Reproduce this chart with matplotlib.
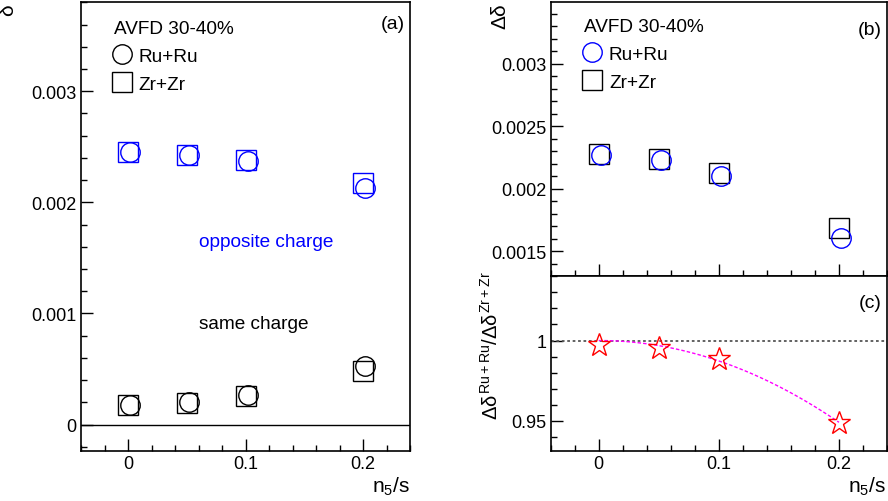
import matplotlib
matplotlib.use("Agg")
import matplotlib.pyplot as plt
from matplotlib.lines import Line2D
from matplotlib.ticker import MultipleLocator, FuncFormatter
import numpy as np

plt.rcParams['font.family'] = ['Liberation Sans', 'DejaVu Sans']
plt.rcParams['mathtext.fontset'] = 'custom'
plt.rcParams['mathtext.rm'] = 'Liberation Sans'
plt.rcParams['mathtext.it'] = 'Liberation Sans'
plt.rcParams['mathtext.bf'] = 'Liberation Sans'

# n5/s values (circles drawn slightly shifted as in the original)
n5s = [0.0, 0.05, 0.1, 0.2]
shift = 0.002

# panel (a): delta
opp_ru = [0.00245, 0.00243, 0.00237, 0.00213]
opp_zr = [0.00245, 0.00243, 0.00238, 0.00217]
same_ru = [0.00018, 0.00020, 0.00027, 0.00053]
same_zr = [0.000177, 0.000195, 0.000258, 0.00048]

# panel (b): Delta delta
dd_ru = [0.002272, 0.002226, 0.002098, 0.001606]
dd_zr = [0.002277, 0.002234, 0.002124, 0.001686]

# panel (c): ratio
ratio = [0.9969, 0.9955, 0.9887, 0.9488]

BLUE = '#0000ff'
W, H = 888, 502
fig = plt.figure(figsize=(W / 100, H / 100), dpi=100)

def px_axes(x0, y0, x1, y1):
    return fig.add_axes([x0 / W, 1 - y1 / H, (x1 - x0) / W, (y1 - y0) / H])

axa = px_axes(81, 3.3, 410, 452.3)
axb = px_axes(550.7, 3.3, 887, 277.3)
axc = px_axes(550.7, 277.3, 887, 452.3)

def fmt(v, pos):
    if abs(v) < 1e-12:
        return '0'
    return '%g' % v

for ax in (axa, axb, axc):
    ax.set_xlim(-0.04, 0.24)
    ax.xaxis.set_major_locator(MultipleLocator(0.1))
    ax.xaxis.set_minor_locator(MultipleLocator(0.02))
    ax.xaxis.set_major_formatter(FuncFormatter(fmt))
    ax.yaxis.set_major_formatter(FuncFormatter(fmt))
    ax.tick_params(which='both', direction='in', top=False, right=False,
                   labelsize=13, width=1)
    ax.tick_params(which='major', length=8.5, pad=3)
    ax.tick_params(which='minor', length=4.5)
    for s in ax.spines.values():
        s.set_linewidth(1.2)

ms = 14
FS = 13.7

def add_legend(ax, ccol):
    handles = [Line2D([], [], ls='none', marker='o', ms=ms, mfc='none', mec=ccol, mew=1),
               Line2D([], [], ls='none', marker='s', ms=ms, mfc='none', mec='black', mew=1)]
    leg = ax.legend(handles, ['Ru+Ru', 'Zr+Zr'], title='AVFD 30-40%', loc='upper left',
                    bbox_to_anchor=(0.06, 0.99), frameon=False, fontsize=FS,
                    title_fontsize=FS, handlelength=0.8, handletextpad=0.5,
                    labelspacing=0.55, borderaxespad=0.3)
    leg._legend_box.align = 'left'

# ---- panel (a)
axa.set_ylim(-0.00024, 0.0038)
axa.yaxis.set_major_locator(MultipleLocator(0.001))
axa.yaxis.set_minor_locator(MultipleLocator(0.0002))
axa.axhline(0, color='black', lw=1)
axa.plot(n5s, opp_zr, 's', ms=ms, mfc='none', mec=BLUE, mew=1)
axa.plot(np.array(n5s) + shift, opp_ru, 'o', ms=ms, mfc='none', mec=BLUE, mew=1)
axa.plot(n5s, same_zr, 's', ms=ms, mfc='none', mec='black', mew=1)
axa.plot(np.array(n5s) + shift, same_ru, 'o', ms=ms, mfc='none', mec='black', mew=1)
axa.text(0.06, 0.00165, 'opposite charge', color=BLUE, fontsize=FS, va='center')
axa.text(0.06, 0.00091, 'same charge', color='black', fontsize=FS, va='center')
axa.text(0.985, 0.972, '(a)', transform=axa.transAxes, ha='right', va='top', fontsize=14)
add_legend(axa, 'black')

# ---- panel (b)
axb.set_ylim(0.0013, 0.00349)
axb.yaxis.set_major_locator(MultipleLocator(0.0005))
axb.yaxis.set_minor_locator(MultipleLocator(0.0001))
axb.tick_params(axis='x', labelbottom=False)
axb.plot(n5s, dd_zr, 's', ms=ms, mfc='none', mec='black', mew=1)
axb.plot(np.array(n5s) + shift, dd_ru, 'o', ms=ms, mfc='none', mec=BLUE, mew=1)
axb.text(0.985, 0.93, '(b)', transform=axb.transAxes, ha='right', va='top', fontsize=14)
add_legend(axb, BLUE)

# ---- panel (c)
axc.set_ylim(0.931, 1.04)
axc.yaxis.set_major_locator(MultipleLocator(0.05))
axc.yaxis.set_minor_locator(MultipleLocator(0.01))
axc.axhline(1.0, color='#555555', lw=1.3, ls=(0, (1.5, 1.5)))
# quadratic fit 1 - a x^2 to the ratio points
xs = np.array(n5s)
a = np.sum(xs**2 * (1 - np.array(ratio))) / np.sum(xs**4)
xf = np.linspace(0, 0.2, 100)
axc.plot(xf, 1 - a * xf**2, color='#ff00ff', lw=1, ls=(0, (2.5, 1.5)))
axc.plot(n5s, ratio, '*', ms=17, mfc='none', mec='red', mew=1)
axc.text(0.985, 0.9, '(c)', transform=axc.transAxes, ha='right', va='top', fontsize=14)

# axis titles
fig.text(8 / W, 1 - 11 / H, r'$\delta$', rotation=90, ha='center', va='center', fontsize=15)
fig.text(500 / W, 1 - 17 / H, r'$\Delta\delta$', rotation=90, ha='center', va='center', fontsize=15)
fig.text(491 / W, 1 - 346 / H, r'$\Delta\delta^{\mathrm{Ru+Ru}}/\Delta\delta^{\mathrm{Zr+Zr}}$',
         rotation=90, ha='center', va='center', fontsize=14.5)
fig.text(410 / W, 1 - 487 / H, r'n$_5$/s', ha='right', va='center', fontsize=15)
fig.text(886 / W, 1 - 487 / H, r'n$_5$/s', ha='right', va='center', fontsize=15)

fig.savefig('out.png', dpi=100)
